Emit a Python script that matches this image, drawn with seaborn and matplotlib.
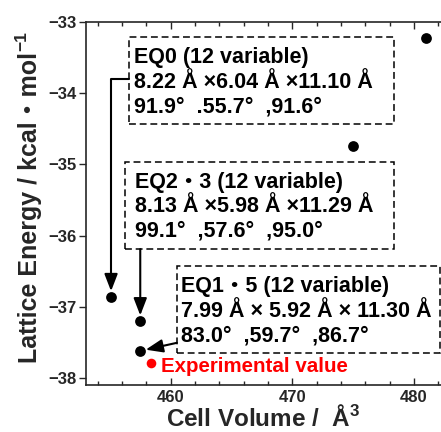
import matplotlib
matplotlib.use("Agg")
import matplotlib.pyplot as plt
from matplotlib.patches import Rectangle
import seaborn as sns

# calculated structures (cell volume in A^3, lattice energy in kcal/mol)
cell_volume = [481.0, 475.0, 455.1, 457.5, 457.5]
lattice_energy = [-33.22, -34.74, -36.86, -37.20, -37.62]

# experimental structure
exp_volume = [458.4]
exp_energy = [-37.79]

x_ticks = [460, 470, 480]
y_ticks = [-38, -37, -36, -35, -34, -33]

box_texts = [
    "EQ0 (12 variable)\n8.22 Å ×6.04 Å ×11.10 Å\n91.9°  .55.7°  ,91.6°",
    "EQ2・3 (12 variable)\n8.13 Å ×5.98 Å ×11.29 Å\n99.1°  ,57.6°  ,95.0°",
    "EQ1・5 (12 variable)\n7.99 Å × 5.92 Å × 11.30 Å\n83.0°  ,59.7°  ,86.7°",
]

sns.set_style("ticks")
fams = ["Liberation Sans", "Noto Sans CJK JP", "DejaVu Sans"]
plt.rcParams["font.family"] = fams
plt.rcParams["mathtext.fontset"] = "custom"
plt.rcParams["mathtext.rm"] = "Liberation Sans:bold"
plt.rcParams["mathtext.bf"] = "Liberation Sans:bold"
plt.rcParams["mathtext.it"] = "Liberation Sans:bold:italic"

fig = plt.figure(figsize=(4.41, 4.32), dpi=100)
ax = fig.add_axes([0.195, 0.109, 0.805, 0.840])

sns.scatterplot(x=cell_volume, y=lattice_energy, color="black", s=60,
                linewidth=0, ax=ax, zorder=3)
sns.scatterplot(x=exp_volume, y=exp_energy, color="#ff0000", s=48,
                linewidth=0, ax=ax, zorder=3)

ax.set_xlim(453.04, 482.22)
ax.set_ylim(-38.098, -33.0)
ax.set_xticks(x_ticks)
ax.set_yticks(y_ticks)
ax.set_xticks(range(454, 483, 2), minor=True)
ax.tick_params(axis="x", which="major", direction="in", top=True, length=5,
               width=1, labelsize=12, pad=4)
ax.tick_params(axis="x", which="minor", direction="in", top=True, length=3, width=1)
ax.tick_params(axis="y", which="major", direction="out", length=5, width=1,
               labelsize=12, pad=2)
for lab in ax.get_xticklabels() + ax.get_yticklabels():
    lab.set_fontweight("bold")
ax.spines["right"].set_visible(False)
for s in ["left", "top", "bottom"]:
    ax.spines[s].set_linewidth(1.2)

ax.set_xlabel("Cell Volume /  Å$^{3}$", fontsize=17.5, fontweight="bold")
ax.set_ylabel("Lattice Energy / kcal・mol", fontsize=18, fontweight="bold")
ax.xaxis.set_label_coords(0.5, -0.055)
ax.yaxis.set_label_coords(-0.124, 0.489)

# dashed annotation boxes (axes fraction) and their text
boxes = [(0.121, 0.719, 0.747, 0.240),
         (0.110, 0.375, 0.758, 0.239),
         (0.256, 0.088, 0.741, 0.240)]
text_pos = [(0.136, 0.930), (0.138, 0.587), (0.268, 0.299)]
dash = (0, (4.5, 2.5))
for (bx, by, bw, bh), (tx, ty), txt in zip(boxes, text_pos, box_texts):
    ax.add_patch(Rectangle((bx, by), bw, bh, transform=ax.transAxes, fill=False,
                           ec="black", lw=1.1, ls=dash, zorder=2))
    ax.text(tx, ty, txt, transform=ax.transAxes, ha="left", va="top",
            fontsize=15.5, fontweight="bold", linespacing=1.22, color="black")

arrow = dict(arrowstyle="-|>,head_length=0.65,head_width=0.25", color="black",
             lw=1.5, mutation_scale=16, shrinkA=0, shrinkB=4)
# EQ0 -> point 3 (elbow)
ax.annotate("", xy=(cell_volume[2], lattice_energy[2]), xycoords="data",
            xytext=(0.121, 0.842), textcoords="axes fraction",
            arrowprops=dict(arrow, connectionstyle="angle,angleA=0,angleB=90,rad=0"))
# EQ2-3 -> point 4 (from bottom edge of its box)
ax.annotate("", xy=(cell_volume[3], lattice_energy[3]), xycoords="data",
            xytext=(cell_volume[3], -36.19), textcoords="data",
            arrowprops=arrow)
# EQ1-5 -> point 5
ax.annotate("", xy=(cell_volume[4], lattice_energy[4]), xycoords="data",
            xytext=(0.256, 0.116), textcoords="axes fraction",
            arrowprops=arrow)

ax.annotate("Experimental value", xy=(exp_volume[0], exp_energy[0]),
            xytext=(7, -2.5), textcoords="offset points", va="center", ha="left",
            fontsize=14.8, fontweight="bold", color="#ff0000")

# superscript -1 at the end of the rotated y label
fig.canvas.draw()
bb = ax.yaxis.label.get_window_extent()
W, H = fig.bbox.width, fig.bbox.height
fig.text((bb.x0 - 4) / W, (bb.y1 + 1) / H, "−1", rotation=90, ha="left",
         va="bottom", fontsize=12.5, fontweight="bold")

fig.savefig("out.png", dpi=100)
